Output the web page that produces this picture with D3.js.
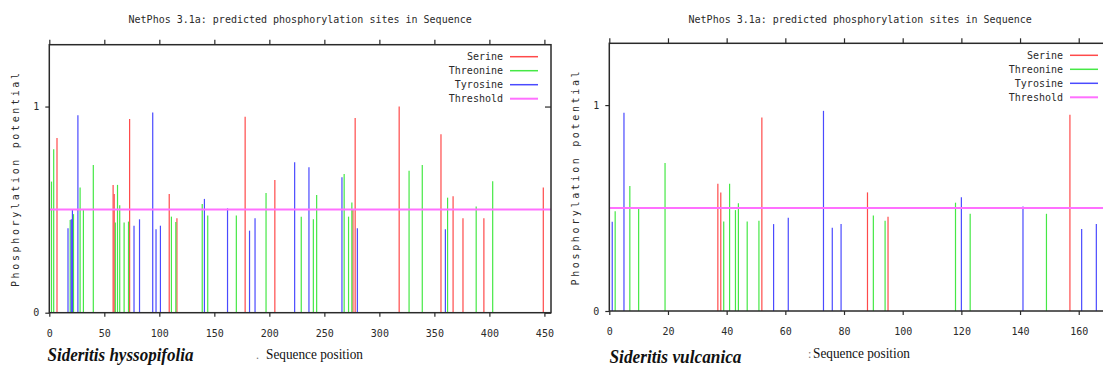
<!DOCTYPE html>
<html>
<head>
<meta charset="utf-8">
<script src="https://cdn.jsdelivr.net/npm/d3@7"></script>
<style>
  html, body { margin: 0; padding: 0; background: #fff; }
  svg { display: block; }
</style>
</head>
<body>
<div id="chart"></div>
<script>
// [position, potential] pairs
const hyssopifoliaSerine = [[7, 0.848], [58, 0.62], [59, 0.576], [73, 0.94], [109, 0.576], [116, 0.458], [178, 0.95], [205, 0.644], [276, 0.498], [278, 0.945], [318, 1.0], [356, 0.866], [367, 0.565], [376, 0.458], [395, 0.458], [449, 0.607]];
const hyssopifoliaThreonine = [[2, 0.636], [4, 0.793], [19, 0.45], [22, 0.478], [28, 0.607], [31, 0.498], [40, 0.717], [60, 0.437], [62, 0.62], [64, 0.521], [68, 0.437], [72, 0.442], [111, 0.466], [115, 0.44], [139, 0.527], [144, 0.471], [170, 0.471], [197, 0.581], [229, 0.466], [240, 0.453], [243, 0.571], [268, 0.673], [272, 0.466], [275, 0.534], [327, 0.688], [339, 0.717], [362, 0.558], [388, 0.515], [403, 0.638]];
const hyssopifoliaTyrosine = [[17, 0.41], [20, 0.453], [21, 0.498], [26, 0.958], [77, 0.422], [82, 0.453], [94, 0.971], [97, 0.405], [101, 0.422], [141, 0.552], [162, 0.506], [182, 0.398], [187, 0.458], [223, 0.73], [236, 0.705], [266, 0.657], [280, 0.41], [360, 0.405]];

const vulcanicaSerine = [[37, 0.618], [38, 0.576], [52, 0.94], [88, 0.576], [95, 0.458], [157, 0.953]];
const vulcanicaThreonine = [[2, 0.484], [7, 0.607], [10, 0.497], [19, 0.719], [39, 0.435], [41, 0.618], [43, 0.49], [44, 0.523], [47, 0.435], [51, 0.438], [90, 0.464], [94, 0.438], [118, 0.526], [123, 0.472], [149, 0.472]];
const vulcanicaTyrosine = [[1, 0.433], [5, 0.963], [56, 0.422], [61, 0.453], [73, 0.972], [76, 0.404], [79, 0.422], [120, 0.552], [141, 0.508], [161, 0.398], [166, 0.422]];

const threshold = 0.5;
const legendNames = ['Serine', 'Threonine', 'Tyrosine', 'Threshold'];
const colors = ['#ff4a4a', '#45e845', '#4a4aff', '#ff70ff'];
const hyssopifoliaTicks = [0, 50, 100, 150, 200, 250, 300, 350, 400, 450];
const vulcanicaTicks = [0, 20, 40, 60, 80, 100, 120, 140, 160];
const yTicks = [0, 1];

const title = 'NetPhos 3.1a: predicted phosphorylation sites in Sequence';
const yLabel = 'Phosphorylation potential';
const xLabel = 'Sequence position';

const mono = '"DejaVu Sans Mono", monospace';
const ink = '#2a2a2a';

const svg = d3.select('#chart')
  .append('svg')
  .attr('width', 1103)
  .attr('height', 369);

const panels = [
  {
    name: 'Sideritis hyssopifolia',
    series: [hyssopifoliaSerine, hyssopifoliaThreonine, hyssopifoliaTyrosine],
    ticks: hyssopifoliaTicks,
    xMax: 456,
    box: { left: 49.3, right: 551, top: 44.7, bottom: 312.7 },
    nameX: 47.5, nameWidth: 146, nameY: 361,
    mark: '.', markX: 256, labelX: 266, labelY: 359,
  },
  {
    name: 'Sideritis vulcanica',
    series: [vulcanicaSerine, vulcanicaThreonine, vulcanicaTyrosine],
    ticks: vulcanicaTicks,
    xMax: 171,
    box: { left: 609.3, right: 1111, top: 43.3, bottom: 311 },
    nameX: 609.5, nameWidth: 132, nameY: 363,
    mark: ':', markX: 808, labelX: 813, labelY: 358,
  },
];

panels.forEach((p) => {
  const b = p.box;
  const x = d3.scaleLinear([0, p.xMax], [b.left, b.right]);
  const y = d3.scaleLinear([0, 1.3], [b.bottom, b.top]);
  const g = svg.append('g');

  // bars
  p.series.forEach((rows, i) => {
    g.append('g')
      .selectAll('line')
      .data(rows)
      .join('line')
      .attr('x1', (d) => x(d[0]))
      .attr('x2', (d) => x(d[0]))
      .attr('y1', y(0))
      .attr('y2', (d) => y(d[1]))
      .attr('stroke', colors[i])
      .attr('stroke-width', 1.2);
  });

  // threshold
  g.append('line')
    .attr('x1', b.left)
    .attr('x2', b.right)
    .attr('y1', y(threshold))
    .attr('y2', y(threshold))
    .attr('stroke', colors[3])
    .attr('stroke-width', 2);

  // frame
  g.append('rect')
    .attr('x', b.left)
    .attr('y', b.top)
    .attr('width', b.right - b.left)
    .attr('height', b.bottom - b.top)
    .attr('fill', 'none')
    .attr('stroke', ink)
    .attr('stroke-width', 1.5);

  const styleAxis = (a) => {
    a.select('.domain').remove();
    a.selectAll('line').attr('stroke', ink).attr('stroke-width', 1.2);
    a.selectAll('text').attr('fill', ink).attr('font-family', mono).attr('font-size', 10);
  };

  g.append('g')
    .attr('transform', `translate(0,${b.bottom})`)
    .call(d3.axisBottom(x).tickValues(p.ticks).tickSize(4).tickPadding(13).tickFormat(d3.format('d')))
    .call(styleAxis);

  g.append('g')
    .attr('transform', `translate(0,${b.top})`)
    .call(d3.axisTop(x).tickValues(p.ticks).tickSize(5).tickFormat(''))
    .call(styleAxis);

  g.append('g')
    .attr('transform', `translate(${b.left},0)`)
    .call(d3.axisLeft(y).tickValues(yTicks).tickSize(4).tickPadding(6).tickFormat(d3.format('d')))
    .call(styleAxis);

  g.append('g')
    .attr('transform', `translate(${b.right},0)`)
    .call(d3.axisRight(y).tickValues(yTicks).tickSize(-6).tickFormat(''))
    .call(styleAxis);

  // title
  g.append('text')
    .attr('x', (b.left + b.right) / 2)
    .attr('y', 23)
    .attr('text-anchor', 'middle')
    .attr('font-family', mono)
    .attr('font-size', 10)
    .attr('fill', ink)
    .text(title);

  // y label
  g.append('text')
    .attr('transform', `translate(${b.left - 30},${(b.top + b.bottom) / 2}) rotate(-90)`)
    .attr('text-anchor', 'middle')
    .attr('font-family', mono)
    .attr('font-size', 10)
    .attr('letter-spacing', 2.65)
    .attr('fill', ink)
    .text(yLabel);

  // legend
  const legend = g.append('g')
    .selectAll('g')
    .data(legendNames)
    .join('g')
    .attr('transform', (d, i) => `translate(${b.right - 13},${b.top + 12 + i * 14})`);

  legend.append('line')
    .attr('x1', -28)
    .attr('x2', 0)
    .attr('stroke', (d, i) => colors[i])
    .attr('stroke-width', (d, i) => (i === 3 ? 2 : 1.5));

  legend.append('text')
    .attr('x', -35)
    .attr('dy', '0.35em')
    .attr('text-anchor', 'end')
    .attr('font-family', mono)
    .attr('font-size', 10)
    .attr('fill', ink)
    .text((d) => d);

  // species name and x label
  svg.append('text')
    .attr('x', p.nameX)
    .attr('y', p.nameY)
    .attr('font-family', '"Liberation Serif", serif')
    .attr('font-style', 'italic')
    .attr('font-weight', 'bold')
    .attr('font-size', 18)
    .attr('textLength', p.nameWidth)
    .attr('lengthAdjust', 'spacingAndGlyphs')
    .attr('fill', '#111')
    .text(p.name);

  svg.append('text')
    .attr('x', p.markX)
    .attr('y', p.labelY)
    .attr('font-family', '"Liberation Serif", serif')
    .attr('font-size', 12)
    .attr('fill', '#777')
    .text(p.mark);

  svg.append('text')
    .attr('x', p.labelX)
    .attr('y', p.labelY)
    .attr('font-family', '"Liberation Serif", serif')
    .attr('font-size', 14)
    .attr('textLength', 97)
    .attr('lengthAdjust', 'spacingAndGlyphs')
    .attr('fill', '#111')
    .text(xLabel);
});
</script>
</body>
</html>
